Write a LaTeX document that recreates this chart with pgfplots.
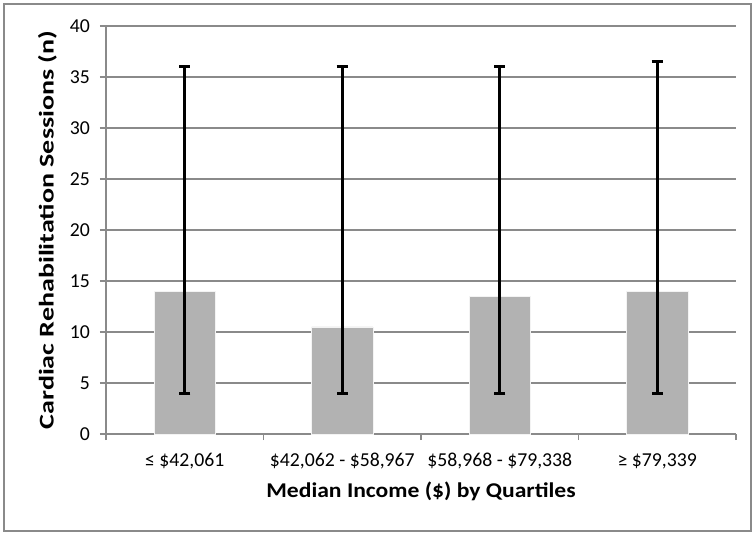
\documentclass[border=0pt]{standalone}
\usepackage{graphicx}
\usepackage{pgfplots}
\pgfplotsset{compat=1.18}
\usepackage{pgfplotstable}
\usepackage{fontspec}
\setmainfont{Carlito}
\definecolor{bargray}{HTML}{B2B2B2}
\definecolor{gridgray}{HTML}{8A8A8A}

\pgfplotstableread{
x y ep em
0 14.0 22.0 10.0
1 10.5 25.5 6.5
2 13.5 22.5 9.5
3 14.0 22.5 10.0
}\sessions

\begin{document}
\begin{tikzpicture}
% page is 755 x 535 px, 1px = 0.75pt
\path (0,0) rectangle (566.25pt,401.25pt);
\draw[gridgray, line width=0.9pt] (3pt,3pt) rectangle (563.25pt,398.25pt);
\begin{axis}[
    at={(79.5pt,75.75pt)}, anchor=south west,
    scale only axis, width=472.5pt, height=306pt,
    xmin=-0.5, xmax=3.5, ymin=0, ymax=40,
    axis x line*=bottom, axis y line*=left,
    axis line style={gridgray, line width=0.9pt},
    xtick={0,1,2,3},
    xticklabels={{≤ \$42,061}, {\$42,062 - \$58,967}, {\$58,968 - \$79,338}, {≥ \$79,339}},
    major x tick style={draw=none},
    minor xtick={-0.5,0.5,1.5,2.5,3.5},
    minor x tick style={gridgray, line width=0.9pt},
    ytick={0,5,...,40},
    y tick style={gridgray, line width=0.9pt},
    tick align=outside,
    major tick length=4.5pt, minor tick length=4.5pt,
    ymajorgrids, major grid style={gridgray, line width=0.9pt},
    /pgf/number format/assume math mode=true,
    ticklabel style={font=\fontsize{14.8}{17}\selectfont, text=black},
    xticklabel style={yshift=-6.5pt},
    yticklabel style={xshift=-4pt},
    xlabel={\scalebox{1.18}[1.05]{\textbf{Median Income (\$) by Quartiles}}},
    ylabel={\scalebox{1.40}[1.05]{\textbf{Cardiac Rehabilitation Sessions (n)}}},
    label style={font=\fontsize{15}{18}\selectfont},
    xlabel style={yshift=-2.5pt},
    ylabel style={yshift=3pt},
]
\addplot[ybar, bar width=0.39, fill=bargray, draw=white!85!bargray,
         error bars/.cd, y dir=both, y explicit,
         error bar style={black, line width=2.25pt},
         error mark options={rotate=90, mark size=4.2pt, black, line width=2.25pt}]
    table[x=x, y=y, y error plus=ep, y error minus=em] {\sessions};
\end{axis}
\end{tikzpicture}
\end{document}
